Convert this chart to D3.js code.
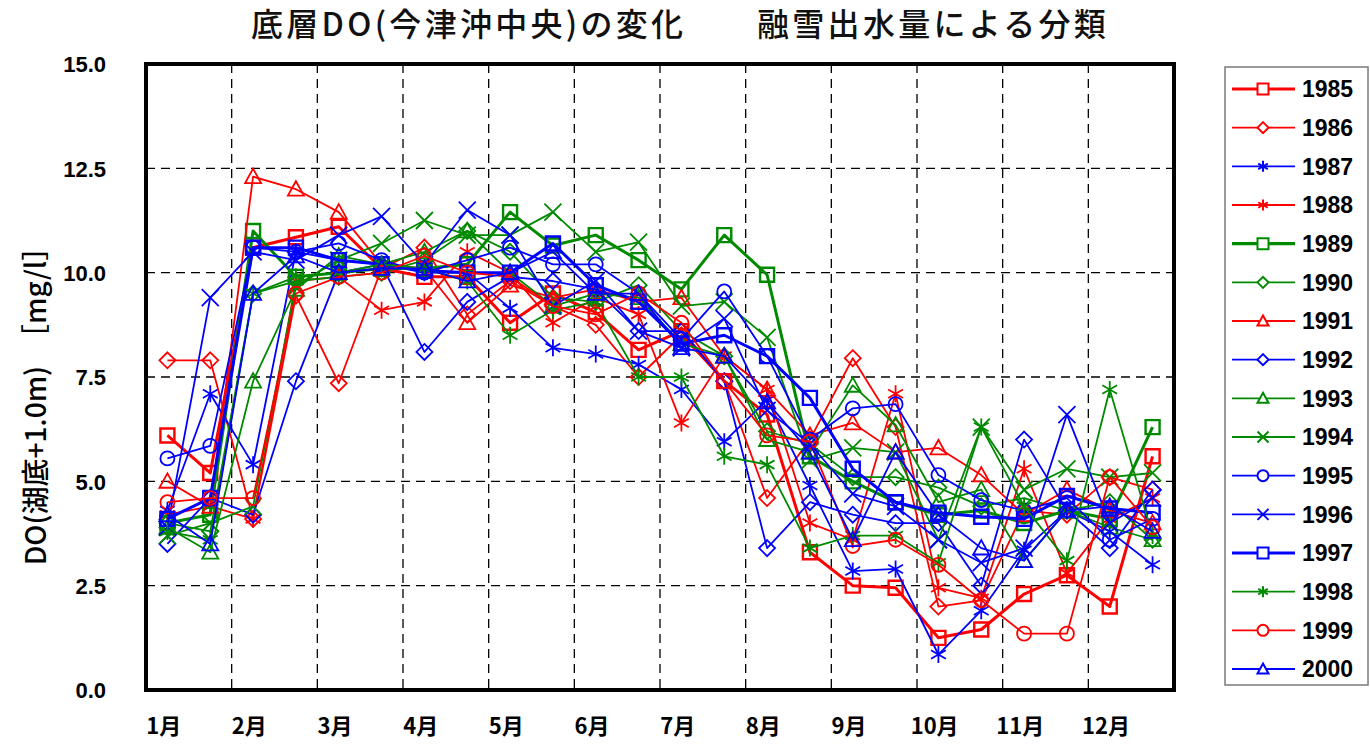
<!DOCTYPE html>
<html>
<head>
<meta charset="utf-8">
<script src="https://cdn.jsdelivr.net/npm/d3@7"></script>
<style>
  html, body { margin: 0; padding: 0; background: #ffffff; }
  svg { display: block; }
</style>
</head>
<body>
<svg id="chart" width="1370" height="746"></svg>
<script>
// Month labels along the x axis (two observations per month)
const months = ["1月","2月","3月","4月","5月","6月","7月","8月","9月","10月","11月","12月"];
const yTicks = [0, 2.5, 5, 7.5, 10, 12.5, 15];

// Bottom-layer dissolved oxygen, mg/l, twice a month (24 values per year)
const years = ["1985","1986","1987","1988","1989","1990","1991","1992",
               "1993","1994","1995","1996","1997","1998","1999","2000"];
const colors = ["red","red","blue","red","green","green","red","blue",
                "green","green","blue","blue","blue","green","red","blue"];
const shapes = ["square","diamond","asterisk","asterisk","square","diamond","triangle","diamond",
                "triangle","cross","circle","cross","square","asterisk","circle","triangle"];
const thick  = [true,false,false,false,true,false,false,false,
                false,false,false,false,true,false,false,false];

const do1985 = [6.1,5.2,10.6,10.85,11.1,10.1,9.9,9.9,8.8,9.5,9.05,8.15,8.6,7.4,6.6,3.3,2.5,2.45,1.25,1.45,2.3,2.75,2.0,5.6];
const do1986 = [7.9,7.9,4.1,9.45,7.35,10.1,10.6,9.0,9.8,9.2,8.75,7.5,8.5,7.4,4.6,6.0,7.95,6.3,2.0,2.15,4.3,4.2,5.1,4.8];
const do1987 = [4.3,7.1,5.4,10.5,10.3,10.2,10.0,10.0,9.15,8.2,8.05,7.8,7.2,5.95,6.95,4.9,2.85,2.9,0.85,1.9,3.35,4.3,3.8,3.0];
const do1988 = [4.2,4.4,4.1,9.8,9.9,9.1,9.3,10.5,10.0,8.8,9.4,9.0,6.4,8.0,7.2,4.0,3.6,7.1,2.45,2.2,5.3,2.8,4.1,4.6];
const do1989 = [4.0,4.2,11.0,9.9,10.0,10.1,10.1,10.2,11.45,10.65,10.9,10.3,9.6,10.9,9.95,5.6,5.0,4.5,4.2,4.3,4.0,4.3,4.1,6.3];
const do1990 = [4.0,3.8,9.5,9.8,9.9,10.0,10.3,11.0,10.5,9.4,9.3,9.7,8.6,8.0,6.2,5.9,5.1,5.1,4.85,4.4,4.6,4.3,4.5,3.6];
const do1991 = [5.0,4.4,12.3,12.0,11.45,10.2,10.1,8.8,9.7,9.4,9.6,9.3,9.4,8.0,7.2,6.1,6.4,5.7,5.8,5.15,4.2,4.8,4.3,4.0];
const do1992 = [3.5,4.6,4.2,7.4,10.0,10.2,8.1,9.3,9.9,9.8,9.6,8.6,8.6,7.4,3.4,4.5,4.2,4.0,4.0,2.5,6.0,4.3,3.4,4.8];
const do1993 = [3.9,3.3,7.4,9.6,10.4,10.2,10.5,11.0,10.0,9.2,9.5,9.4,8.3,8.0,6.0,5.7,7.3,6.35,4.5,4.8,3.1,4.3,3.9,3.6];
const do1994 = [3.7,4.0,4.4,9.7,10.3,10.7,11.25,10.9,10.9,11.45,10.5,10.73,9.2,9.3,8.45,5.5,5.8,5.7,3.6,6.3,4.8,5.3,5.1,5.2];
const do1995 = [5.55,5.85,10.6,10.5,10.7,10.3,10.0,10.3,10.6,10.2,10.2,9.5,8.4,9.55,8.0,6.0,6.75,6.85,5.15,4.55,4.3,4.6,3.6,4.1];
const do1996 = [3.9,9.4,10.5,10.3,10.9,11.35,10.2,11.5,10.9,9.2,9.8,8.6,8.2,8.9,6.7,5.9,4.7,4.4,3.6,3.05,3.4,6.6,4.0,4.6];
const do1997 = [4.1,4.6,10.6,10.6,10.3,10.2,10.05,10.0,10.0,10.7,9.7,9.3,8.3,8.5,8.0,7.0,5.3,4.5,4.25,4.15,4.1,4.65,4.35,4.25];
const do1998 = [3.8,3.6,9.5,9.9,10.0,10.2,10.1,9.8,8.5,9.1,9.3,7.5,7.5,5.6,5.4,3.4,3.7,3.7,3.05,6.3,4.4,3.1,7.2,3.7];
const do1999 = [4.5,4.6,4.6,9.5,9.9,10.0,10.4,10.0,9.9,9.2,9.0,9.5,8.8,7.4,6.1,5.95,3.45,3.6,3.0,2.15,1.35,1.35,5.1,3.9];
const do2000 = [4.2,3.5,9.5,10.4,10.0,10.1,10.1,9.8,10.0,10.5,9.5,9.5,8.2,8.0,6.9,5.7,3.6,5.7,4.2,3.4,3.1,4.3,4.4,3.8];

const seriesValues = [do1985,do1986,do1987,do1988,do1989,do1990,do1991,do1992,
                      do1993,do1994,do1995,do1996,do1997,do1998,do1999,do2000];

const colorMap = { red: "#ff0000", blue: "#0000ff", green: "#008a00" };

const svg = d3.select("#chart");
const plot = { left: 146, right: 1174, top: 64, bottom: 690 };

const x = d3.scaleLinear().domain([0, 24]).range([plot.left, plot.right]);
const y = d3.scaleLinear().domain([0, 15]).range([plot.bottom, plot.top]);

// Title
svg.append("text")
  .attr("x", 680).attr("y", 36)
  .attr("text-anchor", "middle")
  .attr("font-family", "'Noto Sans CJK JP', sans-serif")
  .attr("font-weight", 500)
  .attr("font-size", 32)
  .attr("letter-spacing", 3.3)
  .attr("fill", "#111")
  .text("底層DO(今津沖中央)の変化　　融雪出水量による分類");

// Grid: horizontal dashed lines at each y tick, vertical at month boundaries
const grid = svg.append("g").attr("stroke", "#000").attr("stroke-width", 1.3)
  .attr("stroke-dasharray", "9,6");
grid.selectAll("line.h").data(yTicks.filter(v => v > 0 && v < 15)).join("line")
  .attr("class", "h")
  .attr("x1", plot.left).attr("x2", plot.right)
  .attr("y1", d => y(d)).attr("y2", d => y(d));
grid.selectAll("line.v").data(d3.range(1, 12)).join("line")
  .attr("class", "v")
  .attr("x1", d => x(d * 2)).attr("x2", d => x(d * 2))
  .attr("y1", plot.top).attr("y2", plot.bottom);

// Y axis tick labels
const yAxis = d3.axisLeft(y).tickValues(yTicks).tickSize(0).tickPadding(0)
  .tickFormat(d3.format(".1f"));
svg.append("g").attr("transform", `translate(${plot.left - 40},0)`).call(yAxis)
  .call(g => g.select(".domain").remove())
  .selectAll("text")
  .attr("font-family", "'Liberation Sans', Arial, sans-serif")
  .attr("font-weight", "bold").attr("font-size", 22).attr("fill", "#000")
  .attr("dy", "0.35em");

// X axis month labels
const xAxis = d3.axisBottom(x).tickValues(d3.range(12).map(k => k * 2 + 0.4))
  .tickSize(0).tickPadding(0).tickFormat((d, i) => months[i]);
svg.append("g").attr("transform", `translate(0,${plot.bottom + 28})`).call(xAxis)
  .call(g => g.select(".domain").remove())
  .selectAll("text")
  .attr("font-family", "'Noto Sans CJK JP', sans-serif")
  .attr("font-weight", "bold").attr("font-size", 22).attr("fill", "#000");

// Y axis title
svg.append("text")
  .attr("transform", `translate(46,${(plot.top + plot.bottom) / 2 + 22}) rotate(-90)`)
  .attr("text-anchor", "middle")
  .attr("font-family", "'Noto Sans CJK JP', sans-serif")
  .attr("font-weight", 500)
  .attr("font-size", 28).attr("fill", "#000")
  .text("DO(湖底+1.0m)\u3000［mg/l］");

// Marker shapes drawn around the origin
function markerPath(shape, s) {
  const h = s / 2;
  switch (shape) {
    case "square": return `M${-h},${-h}H${h}V${h}H${-h}Z`;
    case "diamond": return `M0,${-h}L${h},0L0,${h}L${-h},0Z`;
    case "triangle": return `M0,${-h}L${h},${h * 0.8}L${-h},${h * 0.8}Z`;
    case "circle": return `M${-h},0A${h},${h} 0 1,0 ${h},0A${h},${h} 0 1,0 ${-h},0Z`;
    case "cross": return `M${-h},${-h}L${h},${h}M${-h},${h}L${h},${-h}`;
    case "asterisk": {
      const a = h * 0.87, b = h * 0.5;
      return `M0,${-h}V${h}M${-a},${-b}L${a},${b}M${-a},${b}L${a},${-b}`;
    }
  }
  return "";
}
const markerSize = { square: 14, diamond: 16, triangle: 16, circle: 14, cross: 17, asterisk: 17 };

// Series lines and markers
const line = d3.line().x((d, i) => x(i + 0.5)).y(d => y(d));
const seriesG = svg.append("g");
seriesValues.forEach((vals, k) => {
  const col = colorMap[colors[k]];
  const g = seriesG.append("g");
  g.append("path").datum(vals)
    .attr("d", line).attr("fill", "none")
    .attr("stroke", col).attr("stroke-width", thick[k] ? 3 : 1.8)
    .attr("stroke-linejoin", "round");
  g.selectAll("path.m").data(vals).join("path")
    .attr("class", "m")
    .attr("transform", (d, i) => `translate(${x(i + 0.5)},${y(d)})`)
    .attr("d", markerPath(shapes[k], markerSize[shapes[k]]))
    .attr("fill", "none").attr("stroke", col)
    .attr("stroke-width", thick[k] ? 2.4 : 1.8);
});

// Plot frame
svg.append("rect")
  .attr("x", plot.left).attr("y", plot.top)
  .attr("width", plot.right - plot.left).attr("height", plot.bottom - plot.top)
  .attr("fill", "none").attr("stroke", "#000").attr("stroke-width", 4);

// Legend
const legend = svg.append("g");
legend.append("rect").attr("x", 1225).attr("y", 67).attr("width", 143).attr("height", 618)
  .attr("fill", "#fff").attr("stroke", "#7a7a7a").attr("stroke-width", 1.5);
const ly = d3.scalePoint().domain(years).range([89, 669]);
years.forEach((yr, k) => {
  const col = colorMap[colors[k]];
  const row = legend.append("g").attr("transform", `translate(0,${ly(yr)})`);
  row.append("line").attr("x1", 1232).attr("x2", 1295)
    .attr("stroke", col).attr("stroke-width", thick[k] ? 3.2 : 1.8);
  row.append("path").attr("transform", "translate(1263,0)")
    .attr("d", markerPath(shapes[k], 11))
    .attr("fill", "#fff").attr("stroke", col).attr("stroke-width", 2);
  row.append("text").attr("x", 1302).attr("y", 0).attr("dy", "0.36em")
    .attr("font-family", "'Liberation Sans', Arial, sans-serif")
    .attr("font-weight", "bold").attr("font-size", 23).attr("fill", "#000")
    .text(yr);
});
</script>
</body>
</html>
